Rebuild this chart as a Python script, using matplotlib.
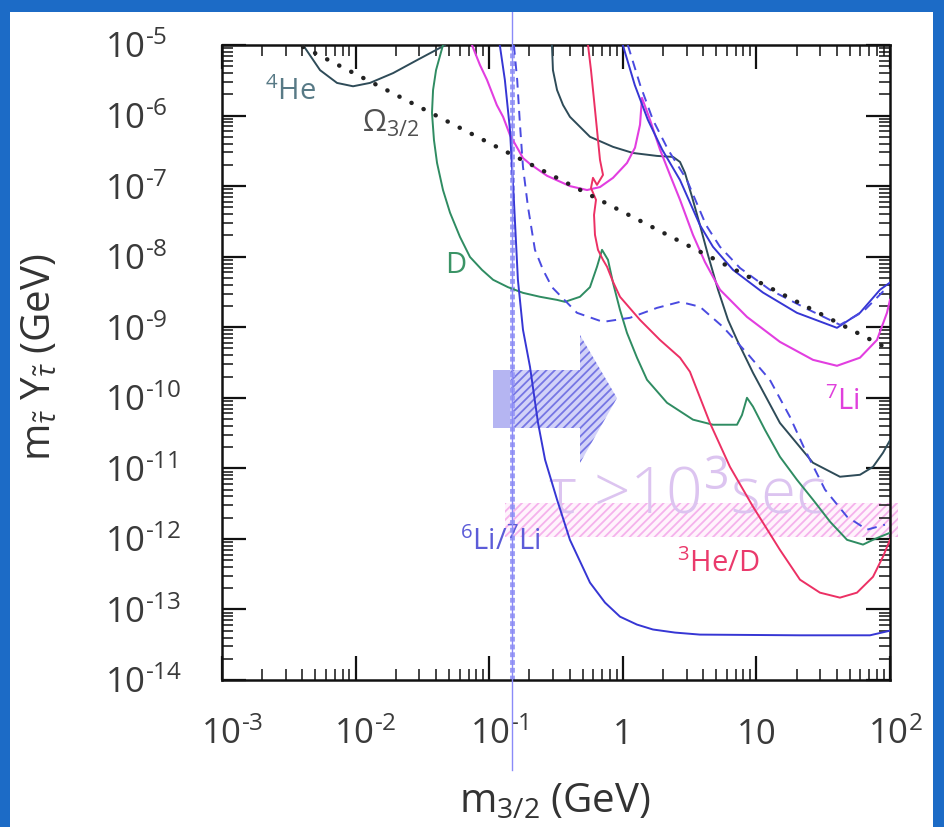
import numpy as np
import matplotlib
matplotlib.use("Agg")
import matplotlib.pyplot as plt
from matplotlib.patches import Polygon, Rectangle
from matplotlib.lines import Line2D
from matplotlib.transforms import Affine2D, ScaledTranslation, blended_transform_factory
from matplotlib.ticker import LogLocator, FixedLocator, FixedFormatter, NullFormatter

plt.rcParams['font.family'] = ['Open Sans', 'DejaVu Sans']
plt.rcParams['mathtext.fontset'] = 'custom'
plt.rcParams['mathtext.rm'] = 'Open Sans'
plt.rcParams['mathtext.it'] = 'Open Sans:italic'
plt.rcParams['mathtext.sf'] = 'Open Sans'
plt.rcParams['hatch.linewidth'] = 1.3

# ---------------- data (m_3/2 in GeV, m*Y in GeV) ----------------
x_ticks = [1e-3, 1e-2, 1e-1, 1, 10, 100]
x_tick_labels = ['10$^{\\text{-3}}$', '10$^{\\text{-2}}$', '10$^{\\text{-1}}$', '1', '10', '10$^{2}$']
y_ticks = [1e-14, 1e-13, 1e-12, 1e-11, 1e-10, 1e-9, 1e-8, 1e-7, 1e-6, 1e-5]
y_tick_labels = ['10$^{\\text{-14}}$', '10$^{\\text{-13}}$', '10$^{\\text{-12}}$', '10$^{\\text{-11}}$',
                 '10$^{\\text{-10}}$', '10$^{\\text{-9}}$', '10$^{\\text{-8}}$', '10$^{\\text{-7}}$',
                 '10$^{\\text{-6}}$', '10$^{\\text{-5}}$']

omega_m = [4.04e-3, 100.0]
omega_Y = [9.4e-6, 4.8e-10]

he4_low_m = [0.00404, 0.00542, 0.00726, 0.00957, 0.0128, 0.0191, 0.0288, 0.0428, 0.0467]
he4_low_Y = [1.0e-5, 4.4e-6, 2.9e-6, 2.6e-6, 2.9e-6, 4.0e-6, 6.1e-6, 9.1e-6, 1.0e-5]

he4_high_m = [0.295, 0.300, 0.322, 0.357, 0.402, 0.568, 0.845, 1.19, 1.80, 2.38, 2.68, 2.92, 3.30,
              3.78, 4.34, 5.16, 6.13, 7.16, 9.43, 15.0, 26.5, 42.2, 59.6, 74.6, 88.6, 100]
he4_high_Y = [1.0e-5, 4.4e-6, 2.3e-6, 1.41e-6, 9.6e-7, 5.0e-7, 3.6e-7, 2.95e-7, 2.68e-7, 2.59e-7,
              2.2e-7, 1.54e-7, 7.0e-8, 2.8e-8, 1.06e-8, 3.4e-9, 1.27e-9, 6.6e-10, 2.26e-10, 4.4e-11,
              1.2e-11, 7.6e-12, 8.1e-12, 1.05e-11, 1.66e-11, 2.5e-11]

d_m = [4.51e-2, 4.00e-2, 3.80e-2, 3.73e-2, 3.86e-2, 4.07e-2, 4.51e-2, 5.09e-2, 6.04e-2, 7.18e-2,
       8.83e-2, 0.107, 0.138, 0.179, 0.240, 0.322, 0.369, 0.478, 0.568, 0.641, 0.699, 0.775, 0.845,
       0.953, 1.075, 1.277, 1.517, 2.142, 3.35, 4.73, 7.16, 7.80, 8.50, 9.43, 11.6, 15.0, 20.1, 26.5,
       35.6, 47.7, 62.8, 74.6, 84.2, 100]
d_Y = [1.0e-5, 4.4e-6, 2.3e-6, 1.09e-6, 4.5e-7, 2.13e-7, 8.8e-8, 4.2e-8, 1.91e-8, 9.9e-9, 6.5e-9,
       4.7e-9, 3.7e-9, 3.07e-9, 2.7e-9, 2.44e-9, 2.29e-9, 2.7e-9, 3.7e-9, 7.2e-9, 1.25e-8, 9.0e-9,
       4.25e-9, 1.76e-9, 8.3e-10, 3.7e-10, 1.8e-10, 8.5e-11, 4.9e-11, 4.15e-11, 4.15e-11, 5.7e-11,
       1.0e-10, 7.5e-11, 3.5e-11, 1.46e-11, 6.9e-12, 3.6e-12, 1.75e-12, 9.7e-13, 8.3e-13, 9.7e-13,
       1.07e-12, 1.22e-12]

li7_m = [7.43e-2, 8.53e-2, 9.63e-2, 0.114, 0.127, 0.143, 0.162, 0.179, 0.202, 0.271, 0.402, 0.540,
         0.675, 0.845, 1.075, 1.234, 1.345, 1.392, 1.598, 1.898, 2.256, 2.68, 3.35, 4.12, 5.34, 8.50,
         15.0, 26.5, 40.1, 59.6, 79.9, 94.9, 100]
li7_Y = [1.0e-5, 5.2e-6, 3.2e-6, 1.41e-6, 9.6e-7, 5.3e-7, 3.5e-7, 2.5e-7, 2.06e-7, 1.4e-7, 1.0e-7,
         8.8e-8, 9.7e-8, 1.31e-7, 2.13e-7, 3.5e-7, 7.4e-7, 1.78e-6, 8.7e-7, 3.3e-7, 1.44e-7, 6.4e-8,
         2.04e-8, 8.4e-9, 3.4e-9, 1.4e-9, 6.2e-10, 3.45e-10, 2.84e-10, 3.7e-10, 6.6e-10, 1.6e-9, 2.44e-9]

he3d_m = [0.549, 0.578, 0.609, 0.641, 0.675, 0.711, 0.641, 0.598, 0.578, 0.630, 0.609, 0.619, 0.652,
          0.711, 0.762, 0.845, 0.953, 1.345, 1.898, 2.68, 3.18, 3.59, 4.49, 6.34, 9.43, 15.0, 21.2,
          29.9, 42.2, 56.6, 74.6, 88.6, 100]
he3d_Y = [1.0e-5, 4.4e-6, 1.66e-6, 6.3e-7, 2.35e-7, 1.44e-7, 1.04e-7, 1.31e-7, 9.4e-8, 6.4e-8,
          3.9e-8, 2.04e-8, 1.25e-8, 9.0e-9, 7.2e-9, 4.4e-9, 2.7e-9, 1.27e-9, 6.6e-10, 3.7e-10,
          2.34e-10, 1.3e-10, 4.4e-11, 1.05e-11, 2.86e-12, 7.0e-13, 2.64e-13, 1.73e-13, 1.47e-13,
          1.73e-13, 2.9e-13, 5.6e-13, 9.7e-13]

li6_m = [0.120, 0.131, 0.143, 0.153, 0.164, 0.179, 0.202, 0.232, 0.262, 0.322, 0.402, 0.568, 0.736,
         0.953, 1.277, 1.68, 2.46, 3.78, 21.2, 70.8, 100]
li6_Y = [1.0e-5, 3.2e-6, 6.3e-7, 6.4e-8, 4.7e-9, 9.2e-10, 2.75e-10, 4.4e-11, 1.32e-11, 3.6e-12,
         9.7e-13, 2.4e-13, 1.25e-13, 7.9e-14, 6.1e-14, 5.2e-14, 4.7e-14, 4.4e-14, 4.3e-14, 4.3e-14,
         5.0e-14]

li6_hi_m = [1.00, 1.23, 1.54, 1.97, 2.68, 3.78, 4.73, 6.68, 11.2, 20.1, 40.1, 59.6, 84.2, 100]
li6_hi_Y = [1.0e-5, 2.7e-6, 8.7e-7, 3.3e-7, 1.22e-7, 2.8e-8, 1.38e-8, 6.5e-9, 3.1e-9, 1.6e-9,
            9.8e-10, 1.6e-9, 3.4e-9, 4.3e-9]

li6_hi_dash_m = [1.09, 1.35, 1.68, 2.18, 3.02, 4.20, 5.34, 7.54, 12.6, 23.1, 42.3, 62.8, 88.6, 100]
li6_hi_dash_Y = [1.0e-5, 2.7e-6, 8.7e-7, 3.3e-7, 1.22e-7, 2.8e-8, 1.38e-8, 6.9e-9, 3.4e-9, 1.88e-9,
                 1.08e-9, 1.66e-9, 3.2e-9, 3.6e-9]

li6_dash_m = [0.153, 0.162, 0.170, 0.179, 0.195, 0.220, 0.253, 0.295, 0.454, 0.711, 1.132, 1.803,
              2.68, 3.78, 5.62, 8.50, 12.6, 17.8, 23.1, 32.6, 47.7, 67.3, 91.7]
li6_dash_Y = [1.0e-5, 3.2e-6, 7.4e-7, 1.87e-7, 5.1e-8, 1.25e-8, 6.5e-9, 3.7e-9, 1.6e-9, 1.19e-9,
              1.36e-9, 1.88e-9, 2.29e-9, 1.95e-9, 1.01e-9, 4.3e-10, 1.8e-10, 5.4e-11, 1.83e-11,
              5.0e-12, 2.06e-12, 1.35e-12, 1.59e-12]

li_ratio_m = 0.148   # vertical 6Li/7Li bound

# ---------------- figure ----------------
W, H = 944, 827
fig = plt.figure(figsize=(W / 100, H / 100), dpi=100)
px = Affine2D().scale(1 / W, -1 / H).translate(0, 1) + fig.transFigure

# slide frame
frame_col = '#1c6bc6'
for (x0, y0, w, h) in [(0, 0, 10, H), (0, 0, W, 12), (933, 0, 11, H)]:
    fig.add_artist(Rectangle((x0, y0), w, h, transform=px, facecolor=frame_col, lw=0, zorder=20))

ax = fig.add_axes([222 / W, 1 - 680 / H, 668 / W, 635 / H])
ax.set_xscale('log')
ax.set_yscale('log')
ax.set_xlim(1e-3, 1e2)
ax.set_ylim(1e-14, 1e-5)
ax.autoscale(False)

# overlays (beneath the curves)
band = Rectangle((505, 503), 393, 34, transform=px, facecolor='#fff3fc', edgecolor='#f5b2ec',
                 hatch='////', lw=0, zorder=1.2, clip_on=False)
ax.add_patch(band)
ax.text(548, 513, 'τ >10$^3$sec', transform=px, fontsize=46, color='#dcc4f0', va='baseline',
        ha='left', zorder=1.3, fontweight='light', clip_on=False)
arrow = Polygon([(493, 370), (580, 370), (580, 335), (617, 398), (580, 463), (580, 428), (493, 428)],
                closed=True, transform=px, facecolor='#d2d2f8', edgecolor='#7676e4', hatch='////',
                lw=0, zorder=1.5, clip_on=False)
ax.add_patch(arrow)
ax.add_patch(Rectangle((493, 370), 17, 58, transform=px, facecolor='#b5b5f2', lw=0, zorder=1.6,
                       clip_on=False))

# curves
blue = '#3636d4'
ax.axvline(li_ratio_m, color='#9d9df4', lw=3.5, ls=(0, (1.0, 0.6)), zorder=2)
ax.plot(omega_m, omega_Y, color='#222222', lw=3.2, ls=(0, (0.05, 3.0)), dash_capstyle='round', zorder=6)
ax.plot(he4_low_m, he4_low_Y, color='#2e4b58', lw=1.4, zorder=4)
ax.plot(he4_high_m, he4_high_Y, color='#2e4b58', lw=1.4, zorder=4)
ax.plot(d_m, d_Y, color='#2f8c62', lw=1.4, zorder=4)
ax.plot(li7_m, li7_Y, color='#e23ee0', lw=1.5, zorder=4)
ax.plot(he3d_m, he3d_Y, color='#ec3064', lw=1.4, zorder=4)
ax.plot(li6_m, li6_Y, color=blue, lw=1.4, zorder=5)
ax.plot(li6_hi_m, li6_hi_Y, color=blue, lw=1.4, zorder=5)
ax.plot(li6_hi_dash_m, li6_hi_dash_Y, color='#4a4ae0', lw=1.4, ls=(0, (5, 3.5)), zorder=5)
ax.plot(li6_dash_m, li6_dash_Y, color='#4a4ae0', lw=1.4, ls=(0, (5, 3.5)), zorder=5)

# curve labels
ax.text(2.10e-3, 1.66e-6, '$^4$He', color='#587a86', fontsize=21, zorder=7)
ax.text(1.12e-2, 5.86e-7, 'Ω$_{3/2}$', color='#505050', fontsize=22, zorder=7)
ax.text(4.67e-2, 5.9e-9, 'D', color='#3b9466', fontsize=21, zorder=7)
ax.text(32.6, 6.76e-11, '$^7$Li', color='#e040dc', fontsize=21, zorder=7)
ax.text(0.244, 7.03e-13, '$^6$Li/$^7$Li', color='#5c5cd8', fontsize=21, ha='right', zorder=7)
ax.text(2.55, 3.43e-13, '$^3$He/D', color='#ea3a6c', fontsize=21, zorder=7)

# slide pointer line through the 6Li/7Li bound
vline_tr = blended_transform_factory(ax.transData, px)
fig.add_artist(Line2D([li_ratio_m, li_ratio_m], [0, 770], transform=vline_tr, color='#8a8af8',
                      lw=1.0, zorder=15))

# axes & ticks
for s in ax.spines.values():
    s.set_linewidth(1.8)
    s.set_color('#111111')
ax.xaxis.set_major_locator(FixedLocator(x_ticks))
ax.xaxis.set_major_formatter(FixedFormatter(x_tick_labels))
ax.yaxis.set_major_locator(FixedLocator(y_ticks))
ax.yaxis.set_major_formatter(FixedFormatter(y_tick_labels))
ax.xaxis.set_minor_locator(LogLocator(base=10, subs=np.arange(2, 10), numticks=60))
ax.yaxis.set_minor_locator(LogLocator(base=10, subs=np.arange(2, 10), numticks=60))
ax.xaxis.set_minor_formatter(NullFormatter())
ax.yaxis.set_minor_formatter(NullFormatter())
ax.tick_params(which='both', direction='in', top=True, right=True, color='#111111',
               labelcolor='#3a3a3a')
ax.tick_params(which='major', length=17, width=1.6)
ax.tick_params(which='minor', length=8, width=1.1)
ax.tick_params(axis='x', which='major', labelsize=25, pad=27)
ax.tick_params(axis='y', which='major', labelsize=25, pad=84)
for lab in ax.get_yticklabels():
    lab.set_ha('left')
x_shift_pt = [7, 7, 7, 0, 0, 4]
for lab, dx in zip(ax.get_xticklabels(), x_shift_pt):
    lab.set_transform(lab.get_transform() + ScaledTranslation(dx / 72, 0, fig.dpi_scale_trans))

ax.set_xlabel('m$_{3/2}$ (GeV)', fontsize=29, color='#333333')
ax.xaxis.set_label_coords((555 - 222) / 668, (680 - 802) / 635)
ax.xaxis.label.set_va('center')
ax.set_ylabel('m$_{\\tilde{\\tau}}$ Y$_{\\tilde{\\tau}}$ (GeV)', fontsize=29, color='#333333')
ax.yaxis.set_label_coords((40 - 222) / 668, (680 - 357) / 635)
ax.yaxis.label.set_va('center')

fig.savefig('out.png', dpi=100)
